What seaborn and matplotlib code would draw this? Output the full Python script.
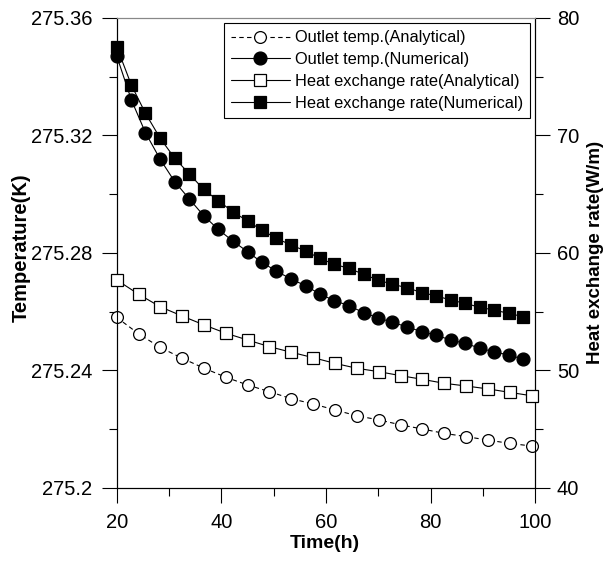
import numpy as np
import pandas as pd
import matplotlib
matplotlib.use("Agg")
import matplotlib.pyplot as plt
from matplotlib.ticker import MultipleLocator, FuncFormatter
import seaborn as sns

# ---------------- data ----------------
t_analytical = [20.0, 24.2, 28.3, 32.5, 36.7, 40.9, 45.0, 49.2, 53.4, 57.6,
                61.7, 65.9, 70.1, 74.3, 78.4, 82.6, 86.8, 91.0, 95.1, 99.3]
temp_analytical = [275.2580, 275.2524, 275.2478, 275.2441, 275.2407, 275.2376,
                   275.2350, 275.2327, 275.2303, 275.2285, 275.2265, 275.2245,
                   275.2231, 275.2214, 275.2200, 275.2185, 275.2174, 275.2162,
                   275.2151, 275.2142]
heat_analytical = [57.69, 56.47, 55.41, 54.62, 53.86, 53.15, 52.58, 52.01, 51.53,
                   51.07, 50.59, 50.17, 49.88, 49.54, 49.23, 48.89, 48.66, 48.41,
                   48.12, 47.83]

t_numerical = [20.0, 22.8, 25.5, 28.3, 31.1, 33.9, 36.6, 39.4, 42.2, 45.0,
               47.7, 50.5, 53.3, 56.1, 58.8, 61.6, 64.4, 67.2, 69.9, 72.7,
               75.5, 78.3, 81.0, 83.8, 86.6, 89.4, 92.1, 94.9, 97.7]
temp_numerical = [275.3471, 275.3321, 275.3209, 275.3119, 275.3042, 275.2983,
                  275.2927, 275.2880, 275.2840, 275.2804, 275.2768, 275.2738,
                  275.2711, 275.2688, 275.2660, 275.2637, 275.2620, 275.2596,
                  275.2579, 275.2563, 275.2548, 275.2531, 275.2520, 275.2503,
                  275.2492, 275.2475, 275.2463, 275.2452, 275.2438]
heat_numerical = [77.56, 74.29, 71.88, 69.76, 68.05, 66.71, 65.41, 64.44, 63.50,
                  62.71, 61.95, 61.24, 60.67, 60.16, 59.54, 59.02, 58.68, 58.17,
                  57.69, 57.32, 57.03, 56.61, 56.35, 55.98, 55.70, 55.36, 55.13,
                  54.85, 54.56]

labels = ["Outlet temp.(Analytical)", "Outlet temp.(Numerical)",
          "Heat exchange rate(Analytical)", "Heat exchange rate(Numerical)"]
x_ticks = [20, 40, 60, 80, 100]
left_ticks = [275.2, 275.24, 275.28, 275.32, 275.36]
right_ticks = [40, 50, 60, 70, 80]

# ---------------- style ----------------
sns.set_style("ticks")
plt.rcParams["font.family"] = ["Liberation Sans", "DejaVu Sans"]
plt.rcParams["text.color"] = "black"
plt.rcParams["axes.labelcolor"] = "black"
plt.rcParams["xtick.color"] = "black"
plt.rcParams["ytick.color"] = "black"
plt.rcParams["axes.linewidth"] = 0.8

fig = plt.figure(figsize=(6.06, 5.62), dpi=100)
ax = fig.add_axes([0.1926, 0.1322, 0.6907, 0.8358])
ax2 = ax.twinx()

df_a = pd.DataFrame({"t": t_analytical, "T": temp_analytical, "Q": heat_analytical})
df_n = pd.DataFrame({"t": t_numerical, "T": temp_numerical, "Q": heat_numerical})

common = dict(color="black", linewidth=0.8, markeredgecolor="black",
              markeredgewidth=0.9, clip_on=False, zorder=3)

sns.lineplot(data=df_a, x="t", y="T", ax=ax, marker="o", markersize=8.5,
             markerfacecolor="white", linestyle=(0, (4, 3)), label=labels[0],
             legend=False, **common)
sns.lineplot(data=df_n, x="t", y="T", ax=ax, marker="o", markersize=9.3,
             markerfacecolor="black", linestyle="-", label=labels[1],
             legend=False, **common)
sns.lineplot(data=df_a, x="t", y="Q", ax=ax2, marker="s", markersize=8.5,
             markerfacecolor="white", linestyle="-", label=labels[2],
             legend=False, **common)
sns.lineplot(data=df_n, x="t", y="Q", ax=ax2, marker="s", markersize=9.3,
             markerfacecolor="black", linestyle="-", label=labels[3],
             legend=False, **common)

# axes limits / ticks
ax.set_xlim(20, 100)
ax.set_ylim(275.2, 275.36)
ax2.set_ylim(40, 80)
ax.set_xticks(x_ticks)
ax.xaxis.set_minor_locator(MultipleLocator(10))
ax.set_yticks(left_ticks)
ax.yaxis.set_minor_locator(MultipleLocator(0.02))
ax.yaxis.set_major_formatter(FuncFormatter(lambda v, p: "%g" % round(v, 4)))
ax2.set_yticks(right_ticks)
ax2.yaxis.set_minor_locator(MultipleLocator(5))

for a in (ax, ax2):
    a.tick_params(which="major", direction="out", length=10.5, width=0.8,
                  color="black", labelcolor="black", labelsize=14.5)
    a.tick_params(which="minor", direction="out", length=5.5, width=0.8,
                  color="black")
ax.tick_params(axis="y", which="major", pad=7)
ax.tick_params(axis="x", which="major", pad=8)
ax2.tick_params(axis="y", which="major", pad=5)

for a in (ax, ax2):
    for s in a.spines.values():
        s.set_color("black")
        s.set_linewidth(0.8)
    a.spines["top"].set_color("#888888")

ax.set_xlabel("Time(h)", fontsize=14, fontweight="bold")
ax.set_ylabel("Temperature(K)", fontsize=14.5, fontweight="bold")
ax2.set_ylabel("Heat exchange rate(W/m)", fontsize=13.5, fontweight="bold")
ax.xaxis.set_label_coords(0.4976, -0.10)
ax.yaxis.set_label_coords(-0.205, 0.51)
ax2.yaxis.set_label_coords(1.124, 0.50)

# legend
handles = ax.get_lines()[:2] + ax2.get_lines()[:2]
leg = ax2.legend(handles, labels, loc="upper right", fontsize=11.8,
                 frameon=True, fancybox=False, shadow=False, framealpha=1,
                 edgecolor="black", borderaxespad=0.3, handlelength=3.6,
                 handletextpad=0.3, labelspacing=0.42, borderpad=0.45)
leg.get_frame().set_linewidth(0.8)

fig.savefig("out.png", dpi=100)
